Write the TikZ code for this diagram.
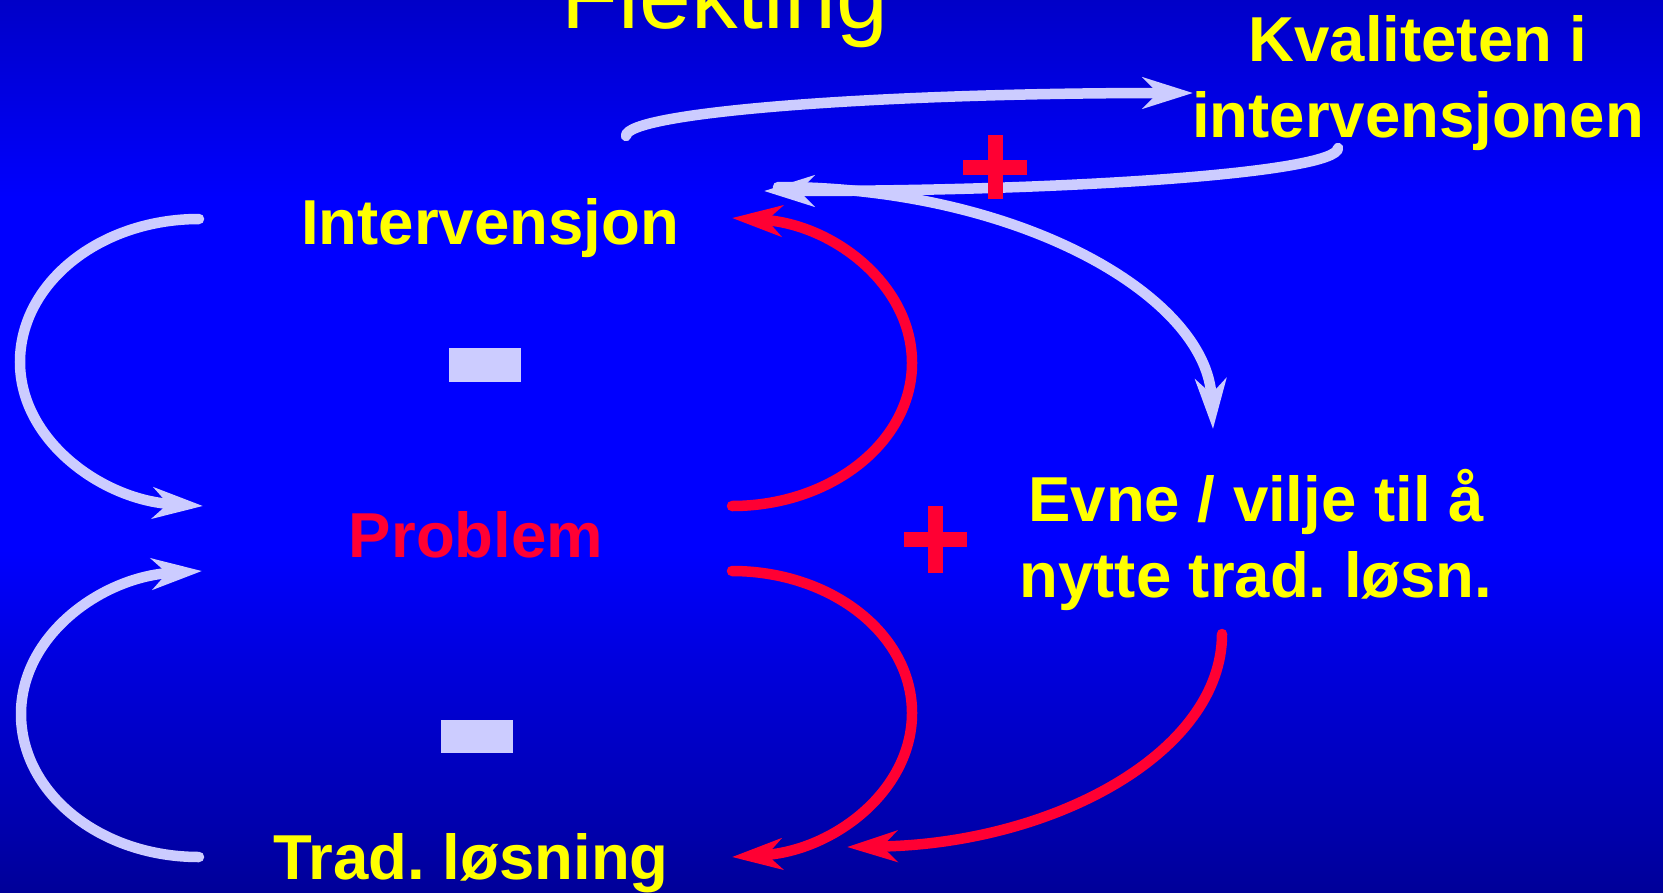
\documentclass[tikz,border=0pt]{standalone}
\usepackage{fontspec}
\setmainfont{Liberation Sans}
\usetikzlibrary{arrows.meta}
\definecolor{gul}{RGB}{255,255,0}
\definecolor{roed}{RGB}{255,0,51}
\definecolor{lilla}{RGB}{204,204,255}
\definecolor{blaa}{RGB}{0,0,255}
\definecolor{toppblaa}{RGB}{0,0,200}
\definecolor{bunnblaa}{RGB}{0,0,153}
\tikzstyle{every picture}=[>={Stealth[length=5mm,width=3.1mm,inset=1.5mm]}]
\tikzstyle{pil}=[->, line width=1.05mm, line cap=round]
\tikzstyle{tekst}=[inner sep=0pt, anchor=base, text=gul, align=center,
  font=\fontsize{18.07}{21.6}\selectfont\bfseries]

\begin{document}
\frenchspacing
\begin{tikzpicture}
\useasboundingbox (0,0) rectangle (16.63,-8.92);
\clip (0,0) rectangle (16.63,-8.92);
% background
\shade[top color=toppblaa, bottom color=blaa] (0,0) rectangle (16.63,-2.01);
\fill[blaa] (0,-2) rectangle (16.63,-5.51);
\shade[top color=blaa, bottom color=bunnblaa] (0,-5.5) rectangle (16.63,-8.92);

 \node[tekst, font=\fontsize{26.5}{30}\selectfont] (tittel) at (7.25,-0.29) {Flekting};
 % base of a two-line node is the last line
 \node[tekst] (kval) at (14.18,-1.37) {Kvaliteten i\\intervensjonen};
 \node[tekst] (interv) at (4.90,-2.44) {Intervensjon};
 \node[tekst, text=roed] (problem) at (4.76,-5.57) {Problem};
 \node[tekst] (evne) at (12.56,-5.97) {Evne / vilje til å\\nytte trad. løsn.};
 \node[tekst] (trad) at (4.71,-8.79) {Trad. løsning};

 % end points of the loops
 \coordinate (lt1) at (1.99,-2.19);
 \coordinate (lt2) at (0.20,-3.62);
 \coordinate (lt3) at (2.03,-5.06);
 \coordinate (lb1) at (1.99,-8.57);
 \coordinate (lb2) at (0.21,-7.14);
 \coordinate (lb3) at (2.02,-5.71);
 \coordinate (rt1) at (7.32,-5.06);
 \coordinate (rt2) at (9.12,-3.63);
 \coordinate (rt3) at (7.32,-2.18);
 \coordinate (rb1) at (7.32,-5.71);
 \coordinate (rb2) at (9.12,-7.13);
 \coordinate (rb3) at (7.32,-8.57);
 \coordinate (rl1) at (12.22,-6.34);
 \coordinate (rl2) at (8.47,-8.47);
 \coordinate (k1) at (6.26,-1.36);
 \coordinate (k2) at (11.93,-0.93);
 \coordinate (k3) at (13.38,-1.48);
 \coordinate (k4) at (7.64,-1.91);
 \coordinate (k5) at (7.78,-1.87);
 \coordinate (k6) at (12.13,-4.29);

 \draw[pil, lilla] (lt1) .. controls +(-0.99,0) and +(0,0.79) .. (lt2)
    .. controls +(0,-0.79) and +(-1.0,0.06) .. (lt3);
 \draw[pil, lilla] (lb1) .. controls +(-0.99,0) and +(0,-0.79) .. (lb2)
    .. controls +(0,0.79) and +(-1.0,-0.06) .. (lb3);
 \draw[pil, roed] (rt1) .. controls +(0.99,0) and +(0,-0.79) .. (rt2)
    .. controls +(0,0.79) and +(1.0,-0.06) .. (rt3);
 \draw[pil, roed] (rb1) .. controls +(0.99,0) and +(0,0.79) .. (rb2)
    .. controls +(0,-0.79) and +(1.0,0.06) .. (rb3);
 \draw[pil, roed] (rl1) .. controls +(0,-1.18) and +(2.07,0.03) .. (rl2);
 \draw[pil, lilla] (k1) .. controls +(0,0.24) and +(-3.13,0) .. (k2);
 \draw[pil, lilla] (k3) .. controls +(0,-0.24) and +(3.17,0) .. (k4);
 \draw[pil, lilla] (k5) .. controls +(2.40,0) and +(-0.06,1.33) .. (k6);

 % plus and minus
 \fill[roed] (9.63,-1.595) rectangle (10.27,-1.745);
 \fill[roed] (9.875,-1.35) rectangle (10.025,-1.99);
 \fill[roed] (9.04,-5.315) rectangle (9.67,-5.465);
 \fill[roed] (9.28,-5.06) rectangle (9.43,-5.73);
 \fill[lilla] (4.49,-3.48) rectangle (5.21,-3.82);
 \fill[lilla] (4.41,-7.20) rectangle (5.13,-7.53);
\end{tikzpicture}
\end{document}
